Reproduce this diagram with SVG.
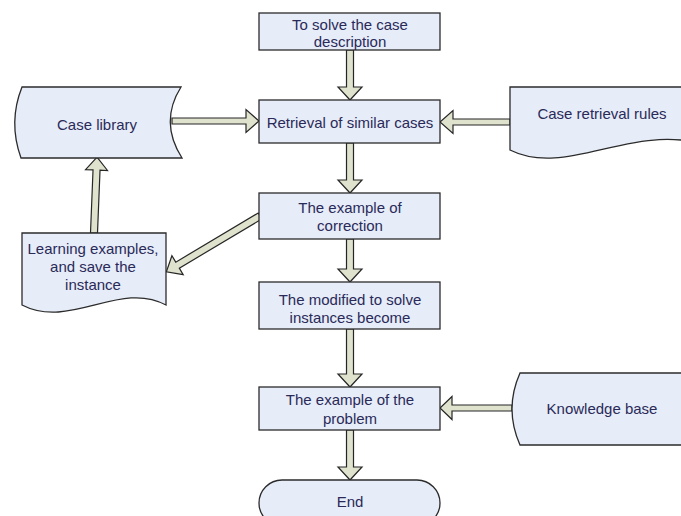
<svg xmlns="http://www.w3.org/2000/svg" width="681" height="516" viewBox="0 0 681 516">
<style>
.box{fill:#e6ecf8;stroke:#2b2b2b;stroke-width:1.3}
.arr{fill:#dfe2cc;stroke:#262626;stroke-width:1.2;stroke-linejoin:miter}
text{font-family:"Liberation Sans",Arial,sans-serif;font-size:15px;fill:#2a2a58;text-anchor:middle;dominant-baseline:central}
</style>
<rect width="681" height="516" fill="#ffffff"/>
<g id="connectors">
<polygon class="arr" points="346.5,50 353.5,50 353.5,87 362,87 350,100 338,87 346.5,87"/>
<polygon class="arr" points="346.5,143 353.5,143 353.5,180 362,180 350,193 338,180 346.5,180"/>
<polygon class="arr" points="346.5,239 353.5,239 353.5,269 362,269 350,282 338,269 346.5,269"/>
<polygon class="arr" points="346.5,329 353.5,329 353.5,374 362,374 350,387 338,374 346.5,374"/>
<polygon class="arr" points="346.5,430 353.5,430 353.5,467 362,467 350,480 338,467 346.5,467"/>
<polygon class="arr" points="172,118 246,118 246,109.5 259,121 246,132.5 246,124 172,124"/>
<polygon class="arr" points="510,119 453,119 453,110.5 440,122 453,133.5 453,125 510,125"/>
<polygon class="arr" points="512,405 452,405 452,396.5 440,408 452,419.5 452,411 512,411"/>
<polygon class="arr" transform="translate(260,216) rotate(149.2)" points="0,-3.5 96,-3.5 96,-11 109,0 96,11 96,3.5 0,3.5"/>
<polygon class="arr" transform="translate(94,233) rotate(-87.7)" points="0,-3.5 63,-3.5 63,-11 76,0 63,11 63,3.5 0,3.5"/>
</g>
<g id="n1"><rect class="box" x="259" y="13" width="181" height="37"/><text x="350" y="24">To solve the case</text><text x="350" y="41">description</text></g>
<g id="n2"><rect class="box" x="259" y="100" width="181" height="43"/><text x="350" y="122">Retrieval of similar cases</text></g>
<g id="n3"><rect class="box" x="259" y="193" width="181" height="46"/><text x="350" y="207">The example of</text><text x="350" y="225">correction</text></g>
<g id="n4"><rect class="box" x="259" y="282" width="181" height="47"/><text x="350" y="299">The modified to solve</text><text x="350" y="317">instances become</text></g>
<g id="n5"><rect class="box" x="259" y="387" width="181" height="43"/><text x="350" y="399">The example of the</text><text x="350" y="418">problem</text></g>
<g id="end"><rect class="box" x="259" y="480" width="181" height="46" rx="23"/><text x="350" y="501">End</text></g>
<g id="caselib"><path class="box" d="M22,87 L181,87 Q159,122 182,158 L21,158 Q8,122 22,87 Z"/><text x="97" y="124">Case library</text></g>
<g id="rules"><path class="box" d="M510,87 L720,87 L720,150 C640,115 570,180 510,150 Z"/><text x="602" y="113">Case retrieval rules</text></g>
<g id="kb"><path class="box" d="M520,373 L720,373 L720,445 L520,445 Q504,409 520,373 Z"/><text x="602" y="408">Knowledge base</text></g>
<g id="learn"><path class="box" d="M22,233 L166,233 L166,305 C120,280 70,330 22,305 Z"/><text x="93" y="248">Learning examples,</text><text x="93" y="266">and save the</text><text x="93" y="284">instance</text></g>
</svg>
